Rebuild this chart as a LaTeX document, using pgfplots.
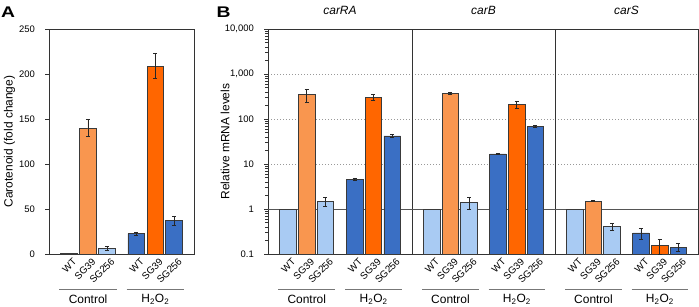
\documentclass[border=0pt]{standalone}
\usepackage{fontspec}
\setmainfont{Liberation Sans}
\usepackage{pgfplots}
\pgfplotsset{compat=1.18}
\definecolor{lblue}{HTML}{A9CBF3}
\definecolor{dblue}{HTML}{3A6FC4}
\definecolor{lorange}{HTML}{F9964F}
\definecolor{dorange}{HTML}{FF6600}
\definecolor{edge}{HTML}{3A3A3A}
\definecolor{axisc}{HTML}{333333}
\definecolor{grpc}{HTML}{777777}
\definecolor{onec}{HTML}{555555}

\pgfplotsset{
  panel/.style={
    scale only axis, height=225bp, xmin=-1.05, xmax=6.6,
    ybar, bar width=0.88, bar shift=0pt,
    axis line style={draw=axisc, line width=0.8bp},
    xtick={0,1,2,3.55,4.55,5.55},
    xticklabels={WT,SG39,SG256,WT,SG39,SG256},
    xtick style={draw=none},
    x tick label style={rotate=45, anchor=north east, inner sep=0pt,
      font=\fontsize{9.8}{10}\selectfont, xshift=3bp, yshift=-2bp},
    ytick pos=left, tick align=outside, major tick length=4bp,
    ytick style={draw=axisc, line width=0.7bp},
    y tick label style={anchor=east, inner sep=0pt, xshift=-10bp,
      font=\fontsize{9.5}{10}\selectfont},
    /pgf/number format/assume math mode=true,
    clip=false,
    every axis plot/.append style={draw=edge, line width=0.6bp},
    ylabel style={at={(rel axis cs:0,0.5)}, anchor=center,
      font=\fontsize{12}{12}\selectfont},
    title style={at={(0.5,1)}, anchor=south, inner sep=0pt, yshift=8bp,
      font=\fontsize{12}{12}\selectfont\itshape},
  },
  eb/.style={error bars/y dir=both, error bars/y explicit,
    error bars/error bar style={draw=black!85, line width=0.6bp},
    error bars/error mark options={rotate=90, draw=black!85, line width=0.6bp, mark size=2bp}},
}
\tikzset{
  grp/.style={draw=grpc, line width=0.8bp},
  grplab/.style={below, inner sep=0pt, yshift=-5bp, font=\fontsize{12}{12}\selectfont, text=black},
  oneline/.style={draw=onec, line width=0.8bp},
}
\newcommand{\groups}{%
  \coordinate (g1) at ({axis cs:-0.5,1} |- {rel axis cs:0,0});
  \coordinate (g2) at ({axis cs:2.52,1} |- {rel axis cs:0,0});
  \coordinate (g3) at ({axis cs:3.05,1} |- {rel axis cs:0,0});
  \coordinate (g4) at ({axis cs:6.07,1} |- {rel axis cs:0,0});
  \draw[grp] ([yshift=-35bp]g1) -- node[grplab]{Control} ([yshift=-35bp]g2);
  \draw[grp] ([yshift=-35bp]g3) -- node[grplab]{H\textsubscript{2}O\textsubscript{2}} ([yshift=-35bp]g4);
}

\begin{document}
\begin{tikzpicture}
\useasboundingbox (0,0) rectangle (699bp,307bp);

\node[anchor=north west, inner sep=0pt, font=\fontsize{15.5}{16}\selectfont\bfseries] at (1bp,300bp) {\scalebox{1.25}[1]{A}};
\node[anchor=north west, inner sep=0pt, font=\fontsize{15.5}{16}\selectfont\bfseries] at (216.5bp,300bp) {\scalebox{1.25}[1]{B}};

% Panel A
\begin{axis}[panel, at={(49bp,53bp)}, anchor=south west, width=145bp,
  ymin=0, ymax=250, ytick={0,50,100,150,200,250},
  ylabel={Carotenoid (fold change)}, ylabel style={yshift=39.5bp}]
\addplot[fill=lblue] coordinates {(0,1)};
\addplot[fill=lorange, eb] coordinates {(1,140) +- (0,9.6)};
\addplot[fill=lblue, eb] coordinates {(2,5.9) +- (0,2.3)};
\addplot[fill=dblue, eb] coordinates {(3.55,22.6) +- (0,1.8) (5.55,37) +- (0,5)};
\addplot[fill=dorange, eb] coordinates {(4.55,209) +- (0,14)};
\groups
\end{axis}

% Panel B: carRA
\begin{axis}[panel, ymode=log, ymin=0.1, ymax=10000, log origin=infty,
  ytick={0.1,1,10,100,1000,10000},
  ymajorgrids, grid style={draw=gray!80, line width=0.6bp, dash pattern=on 1bp off 2bp},
  at={(268bp,53bp)}, anchor=south west, width=144bp,
  yticklabels={0.1,1,10,100,{1,000},{10,000}},
  ylabel={Relative mRNA levels}, ylabel style={yshift=43bp},
  title={carRA}]
\draw[oneline] (axis cs:-1.05,1) -- (axis cs:6.6,1);
\addplot[fill=lblue] coordinates {(0,1)};
\addplot[fill=lorange, eb] coordinates {(1,350) +- (0,118)};
\addplot[fill=lblue, eb] coordinates {(2,1.5) +- (0,0.33)};
\addplot[fill=dblue, eb] coordinates {(3.55,4.6) +- (0,0.3) (5.55,42) +- (0,3)};
\addplot[fill=dorange, eb] coordinates {(4.55,300) +- (0,45)};
\groups
\end{axis}

% Panel B: carB
\begin{axis}[panel, ymode=log, ymin=0.1, ymax=10000, log origin=infty,
  ytick={0.1,1,10,100,1000,10000},
  ymajorgrids, grid style={draw=gray!80, line width=0.6bp, dash pattern=on 1bp off 2bp},
  at={(412bp,53bp)}, anchor=south west, width=143bp,
  yticklabels={}, ytick style={draw=none},
  title={carB}]
\draw[oneline] (axis cs:-1.05,1) -- (axis cs:6.6,1);
\addplot[fill=lblue] coordinates {(0,1)};
\addplot[fill=lorange, eb] coordinates {(1,378) +- (0,16)};
\addplot[fill=lblue, eb] coordinates {(2,1.4) +- (0,0.4)};
\addplot[fill=dblue, eb] coordinates {(3.55,16.7) +- (0,0.6) (5.55,68.5) +- (0,3)};
\addplot[fill=dorange, eb] coordinates {(4.55,208) +- (0,36)};
\groups
\end{axis}

% Panel B: carS
\begin{axis}[panel, ymode=log, ymin=0.1, ymax=10000, log origin=infty,
  ytick={0.1,1,10,100,1000,10000},
  ymajorgrids, grid style={draw=gray!80, line width=0.6bp, dash pattern=on 1bp off 2bp},
  at={(555bp,53bp)}, anchor=south west, width=143bp,
  yticklabels={}, ytick style={draw=none},
  title={carS}]
\draw[oneline] (axis cs:-1.05,1) -- (axis cs:6.6,1);
\addplot[fill=lblue] coordinates {(0,1)};
\addplot[fill=lorange, eb] coordinates {(1,1.51) +- (0,0.05)};
\addplot[fill=lblue, eb] coordinates {(2,0.41) +- (0,0.078)};
\addplot[fill=dblue, eb] coordinates {(3.55,0.295) +- (0,0.085) (5.55,0.143) +- (0,0.026)};
\addplot[fill=dorange, eb] coordinates {(4.55,0.155) +- (0,0.055)};
\groups
\end{axis}
\end{tikzpicture}
\end{document}
